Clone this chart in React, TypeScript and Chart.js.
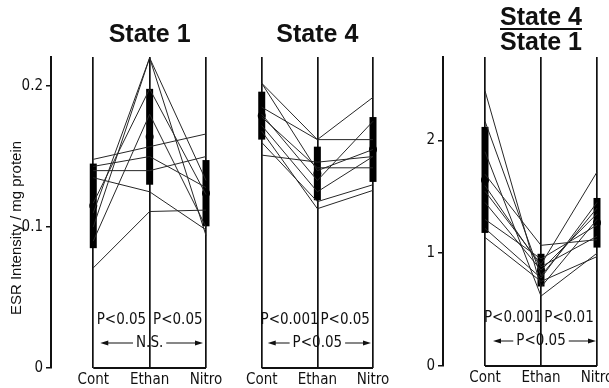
import React, { useEffect, useRef } from "react";
import { Chart, registerables } from "chart.js";

Chart.register(...registerables);

const categories = ["Cont", "Ethan", "Nitro"];

// Panel 1: State 1 (per-subject values)
const s1Cont = [0.071, 0.148, 0.1, 0.11, 0.143, 0.14, 0.117, 0.09, 0.135];
const s1Ethan = [0.111, 0.157, 0.22, 0.22, 0.15, 0.14, 0.198, 0.18, 0.125];
const s1Nitro = [0.112, 0.166, 0.094, 0.133, 0.128, 0.15, 0.123, 0.1, 0.098];
const s1Mean = [0.115, 0.164, 0.124];
const s1Sd = [0.03, 0.034, 0.0235];
const s1Ticks = [0, 0.1, 0.2];
const s1TickLabels = ["0", "0.1", "0.2"];
const s1PValues = ["P<0.05", "P<0.05", "N.S."];

// Panel 2: State 4
const s4Cont = [0.202, 0.202, 0.185, 0.178, 0.172, 0.168, 0.16, 0.151, 0.18];
const s4Ethan = [0.162, 0.14, 0.162, 0.142, 0.125, 0.113, 0.118, 0.146, 0.133];
const s4Nitro = [0.192, 0.155, 0.162, 0.142, 0.15, 0.126, 0.13, 0.15, 0.175];
const s4Mean = [0.179, 0.138, 0.155];
const s4Sd = [0.017, 0.019, 0.023];
const s4PValues = ["P<0.001", "P<0.05", "P<0.05"];

// Panel 3: State 4 / State 1
const rCont = [2.44, 2.17, 1.9, 1.7, 1.55, 1.45, 1.3, 1.22, 1.14, 1.6];
const rEthan = [0.7, 0.8, 0.62, 1.07, 0.9, 0.85, 0.95, 0.78, 0.75, 0.88];
const rNitro = [1.3, 1.4, 1.0, 1.12, 1.72, 1.35, 1.25, 1.45, 0.97, 1.15];
const rMean = [1.65, 0.85, 1.27];
const rSd = [0.47, 0.145, 0.22];
const rTicks = [0, 1, 2];
const rTickLabels = ["0", "1", "2"];
const rPValues = ["P<0.001", "P<0.01", "P<0.05"];

const yTitle = "ESR Intensity / mg protein";
const NARROW = '"Liberation Sans Narrow", "DejaVu Sans Condensed", sans-serif';
const SANS = '"Liberation Sans", Arial, sans-serif';

function buildDatasets(cont: number[], ethan: number[], nitro: number[], mean: number[], sd: number[]) {
  const ds: any[] = [];
  ds.push({
    data: [{ x: 0, y: 0 }, { x: 2, y: 0 }],
    borderColor: "#111",
    borderWidth: 2,
    pointRadius: 0,
    clip: false,
  });
  cont.forEach((c, i) => {
    ds.push({
      data: [{ x: 0, y: c }, { x: 1, y: ethan[i] }, { x: 2, y: nitro[i] }],
      borderColor: "#262626",
      borderWidth: 1,
      pointRadius: 0,
      tension: 0,
      clip: false,
    });
  });
  mean.forEach((m, i) => {
    ds.push({
      data: [{ x: i, y: m - sd[i] }, { x: i, y: m + sd[i] }],
      borderColor: "#000",
      borderWidth: 7,
      borderCapStyle: "butt",
      pointRadius: 0,
      clip: false,
    });
  });
  ds.push({
    data: mean.map((m, i) => ({ x: i, y: m })),
    showLine: false,
    pointRadius: 4,
    pointBackgroundColor: "#000",
    pointBorderWidth: 0,
    clip: false,
  });
  return ds;
}

type PanelSpec = {
  datasets: any[];
  padLeft: number;
  padRight: number;
  xHeight: number;
  yMax: number;
  yTicks: number[] | null;
  yTickLabels: string[] | null;
  title: string;
  title2?: string;
  pValues: string[];
  showYTitle: boolean;
  arrowStart: number;
  arrowEnd: number;
};

function drawArrowRow(ctx: CanvasRenderingContext2D, x1: number, x2: number, cx: number, y: number, label: string) {
  const w = ctx.measureText(label).width;
  ctx.lineWidth = 1.2;
  ctx.beginPath();
  ctx.moveTo(x1 + 4, y);
  ctx.lineTo(cx - w / 2 - 3, y);
  ctx.moveTo(cx + w / 2 + 3, y);
  ctx.lineTo(x2 - 4, y);
  ctx.stroke();
  ctx.beginPath();
  ctx.moveTo(x1, y);
  ctx.lineTo(x1 + 8, y - 2.5);
  ctx.lineTo(x1 + 8, y + 2.5);
  ctx.closePath();
  ctx.moveTo(x2, y);
  ctx.lineTo(x2 - 8, y - 2.5);
  ctx.lineTo(x2 - 8, y + 2.5);
  ctx.closePath();
  ctx.fill();
  ctx.fillText(label, cx, y);
}

function makePlugin(spec: PanelSpec) {
  return {
    id: "panelText",
    afterDraw(chart: any) {
      const ctx: CanvasRenderingContext2D = chart.ctx;
      const xs = chart.scales.x;
      const area = chart.chartArea;
      const cx = xs.getPixelForValue(1);
      ctx.save();
      ctx.fillStyle = "#111";
      ctx.strokeStyle = "#111";
      ctx.textAlign = "center";
      ctx.textBaseline = "alphabetic";
      ctx.font = "bold 25px " + SANS;
      if (spec.title2) {
        ctx.fillText(spec.title, cx, area.top - 32);
        ctx.fillText(spec.title2, cx, area.top - 7);
        const w = ctx.measureText(spec.title).width;
        ctx.lineWidth = 2;
        ctx.beginPath();
        ctx.moveTo(cx - w / 2, area.top - 28);
        ctx.lineTo(cx + w / 2, area.top - 28);
        ctx.stroke();
      } else {
        ctx.fillText(spec.title, cx, area.top - 15);
      }
      ctx.font = "15px " + NARROW;
      ctx.textBaseline = "middle";
      ctx.fillText(spec.pValues[0], xs.getPixelForValue(0.5), area.bottom - 48);
      ctx.fillText(spec.pValues[1], xs.getPixelForValue(1.5), area.bottom - 48);
      drawArrowRow(
        ctx,
        xs.getPixelForValue(0) + spec.arrowStart,
        xs.getPixelForValue(2) - spec.arrowEnd,
        cx,
        area.bottom - 25,
        spec.pValues[2]
      );
      if (spec.showYTitle) {
        ctx.save();
        ctx.translate(17, 228);
        ctx.rotate(-Math.PI / 2);
        ctx.font = "15px " + SANS;
        ctx.fillText(yTitle, 0, 0);
        ctx.restore();
      }
      ctx.restore();
    },
  };
}

function Panel({ spec }: { spec: PanelSpec }) {
  const ref = useRef<HTMLCanvasElement | null>(null);
  useEffect(() => {
    if (!ref.current) return;
    const showY = !!spec.yTicks;
    const chart = new Chart(ref.current, {
      type: "line",
      data: { datasets: spec.datasets },
      options: {
        animation: false,
        responsive: false,
        devicePixelRatio: 1,
        layout: { padding: { left: spec.padLeft, right: spec.padRight, top: 57, bottom: 0 } },
        plugins: { legend: { display: false }, tooltip: { enabled: false } },
        elements: { line: { tension: 0 } },
        scales: {
          x: {
            type: "linear",
            min: -0.75,
            max: 2,
            afterBuildTicks: (s: any) => {
              s.ticks = categories.map((_, i) => ({ value: i }));
            },
            afterFit: (s: any) => {
              s.height = spec.xHeight;
              s.paddingLeft = 0;
              s.paddingRight = 0;
            },
            ticks: {
              autoSkip: false,
              maxRotation: 0,
              padding: 3,
              color: "#111",
              font: { family: NARROW, size: 15 },
              callback: (_v: any, i: number) => categories[i],
            },
            grid: { display: true, drawOnChartArea: true, drawTicks: false, color: "#111", lineWidth: 1.7 },
            border: { display: false },
          },
          y: {
            type: "linear",
            display: showY,
            min: 0,
            max: spec.yMax,
            afterBuildTicks: (s: any) => {
              if (spec.yTicks) s.ticks = spec.yTicks.map((v) => ({ value: v }));
            },
            afterFit: (s: any) => {
              if (showY) s.width = 51;
              s.paddingTop = 0;
              s.paddingBottom = 0;
            },
            ticks: {
              padding: 3,
              color: "#111",
              font: { family: NARROW, size: 15 },
              callback: (_v: any, i: number) => (spec.yTickLabels ? spec.yTickLabels[i] : ""),
            },
            grid: { display: true, drawOnChartArea: false, drawTicks: true, tickLength: 5, color: "#111", lineWidth: 1.5 },
            border: { display: true, color: "#111", width: 2 },
          },
        },
      } as any,
      plugins: [makePlugin(spec)],
    });
    return () => chart.destroy();
  }, [spec]);
  return (
    <canvas
      ref={ref}
      width={609}
      height={388}
      style={{ position: "absolute", left: 0, top: 0, width: 609, height: 388 }}
    />
  );
}

const panels: PanelSpec[] = [
  {
    datasets: buildDatasets(s1Cont, s1Ethan, s1Nitro, s1Mean, s1Sd),
    padLeft: 0,
    padRight: 403,
    xHeight: 20,
    yMax: 0.2206,
    yTicks: s1Ticks,
    yTickLabels: s1TickLabels,
    title: "State 1",
    pValues: s1PValues,
    showYTitle: true,
    arrowStart: 7,
    arrowEnd: 3,
  },
  {
    datasets: buildDatasets(s4Cont, s4Ethan, s4Nitro, s4Mean, s4Sd),
    padLeft: 220,
    padRight: 236,
    xHeight: 20,
    yMax: 0.2206,
    yTicks: null,
    yTickLabels: null,
    title: "State 4",
    pValues: s4PValues,
    showYTitle: false,
    arrowStart: 6,
    arrowEnd: 2,
  },
  {
    datasets: buildDatasets(rCont, rEthan, rNitro, rMean, rSd),
    padLeft: 392,
    padRight: 12,
    xHeight: 22,
    yMax: 2.74,
    yTicks: rTicks,
    yTickLabels: rTickLabels,
    title: "State 4",
    title2: "State 1",
    pValues: rPValues,
    showYTitle: false,
    arrowStart: 8,
    arrowEnd: 1,
  },
];

export default function App() {
  return (
    <div style={{ position: "fixed", left: 0, top: 0, width: 609, height: 388, background: "#fff", overflow: "hidden" }}>
      {panels.map((p, i) => (
        <Panel key={i} spec={p} />
      ))}
    </div>
  );
}
